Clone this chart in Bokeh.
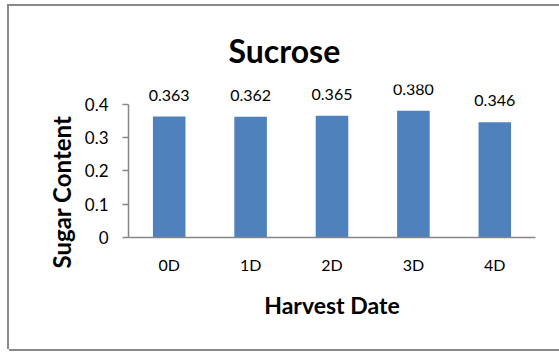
from bokeh.plotting import figure
from bokeh.models import FactorRange, Range1d, FixedTicker, LabelSet, ColumnDataSource, Title
from bokeh.core.properties import value
from bokeh.embed import file_html
from bokeh.resources import INLINE

categories = ["0D", "1D", "2D", "3D", "4D"]
sucrose = [0.363, 0.362, 0.365, 0.380, 0.346]
labels = ["0.363", "0.362", "0.365", "0.380", "0.346"]
y_ticks = [0, 0.1, 0.2, 0.3, 0.4]
y_tick_labels = ["0", "0.1", "0.2", "0.3", "0.4"]

FONT = "Lato"
AXIS_GRAY = "#868686"
FRAME_GRAY = "#898989"

src = ColumnDataSource(dict(cat=categories, val=sucrose, lab=labels))

p = figure(
    x_range=FactorRange(*categories),
    y_range=Range1d(0, 0.459),
    width=550, height=343,
    output_backend="svg", toolbar_location=None,
    min_border_left=119, min_border_right=24,
    min_border_top=78, min_border_bottom=112,
)
# chart-area frame: left, top and bottom edges (the right edge is cropped in the reference)
p.styles = {"margin-left": "9px", "margin-top": "6px",
            "box-shadow": f"-2px 0 0 0 {FRAME_GRAY}, 0 -2px 0 0 {FRAME_GRAY}, "
                          f"0 2px 0 0 {FRAME_GRAY}, -2px -2px 0 0 {FRAME_GRAY}"}
p.outline_line_color = None
p.background_fill_color = "white"
p.border_fill_color = "white"
p.xgrid.grid_line_color = None
p.ygrid.grid_line_color = None

p.vbar(x="cat", top="val", width=0.4, source=src, fill_color="#4F81BD", line_color=None)
p.add_layout(LabelSet(x="cat", y="val", text="lab", source=src, text_align="center",
                      text_baseline="alphabetic", y_offset=16, text_font=value(FONT),
                      text_font_size=value("16px"), text_color="#000000"))

# Title
p.title.text = "Sucrose"
p.title.text_font = FONT
p.title.text_font_size = "32px"
p.title.text_font_style = "bold"
p.title.text_color = "#000000"
p.title.align = "left"
p.title.offset = 100
p.title.standoff = 30

# Y axis
ya = p.yaxis[0]
ya.ticker = FixedTicker(ticks=y_ticks)
ya.major_label_overrides = {t: s for t, s in zip(y_ticks, y_tick_labels)}
ya.bounds = (0, 0.4)
ya.minor_tick_line_color = None
ya.major_tick_in = 0
ya.major_tick_out = 6
ya.axis_line_color = AXIS_GRAY
ya.major_tick_line_color = AXIS_GRAY
ya.axis_line_width = 1.5
ya.major_tick_line_width = 1.5
ya.major_label_standoff = 14
ya.major_label_text_font = FONT
ya.major_label_text_font_size = "17px"
ya.major_label_text_color = "#000000"

# X axis
xa = p.xaxis[0]
xa.major_tick_line_color = None
xa.minor_tick_line_color = None
xa.axis_line_color = AXIS_GRAY
xa.axis_line_width = 1.5
xa.major_label_standoff = 11
xa.major_label_text_font = FONT
xa.major_label_text_font_size = "16px"
xa.major_label_text_color = "#000000"
xa.axis_label = "Harvest Date"
xa.axis_label_text_font = FONT
xa.axis_label_text_font_size = "23px"
xa.axis_label_text_font_style = "bold"
xa.axis_label_text_color = "#000000"
xa.axis_label_standoff = 14

# Y axis title, offset along the axis as in the reference
ytitle = Title(text="Sugar Content", align="left", offset=-31, standoff=12,
               text_font=FONT, text_font_size="24px", text_font_style="bold",
               text_color="#000000")
p.add_layout(ytitle, "left")

open("out.html", "w").write(file_html(p, INLINE))
